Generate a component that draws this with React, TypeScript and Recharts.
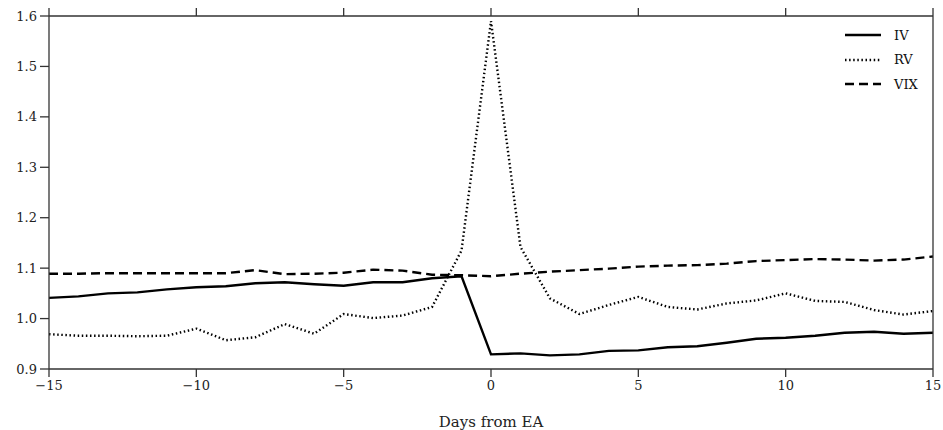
import { LineChart, Line, XAxis, YAxis } from 'recharts'

const days = [-15, -14, -13, -12, -11, -10, -9, -8, -7, -6, -5, -4, -3, -2, -1, 0, 1, 2, 3, 4, 5, 6, 7, 8, 9, 10, 11, 12, 13, 14, 15]

const iv = [
  1.041, 1.044, 1.050, 1.052, 1.058, 1.062, 1.064, 1.070, 1.072, 1.068, 1.065, 1.072, 1.072, 1.080, 1.084,
  0.929, 0.931, 0.927, 0.929, 0.936, 0.937, 0.943, 0.945, 0.952, 0.960, 0.962, 0.966, 0.972, 0.974, 0.970, 0.972,
]

const rv = [
  0.969, 0.966, 0.966, 0.965, 0.966, 0.980, 0.957, 0.963, 0.989, 0.970, 1.009, 1.001, 1.006, 1.023, 1.135,
  1.590, 1.142, 1.040, 1.009, 1.027, 1.043, 1.023, 1.018, 1.030, 1.036, 1.050, 1.035, 1.033, 1.017, 1.008, 1.015,
]

const vix = [
  1.089, 1.089, 1.090, 1.090, 1.090, 1.090, 1.090, 1.096, 1.088, 1.089, 1.091, 1.097, 1.095, 1.087, 1.086,
  1.084, 1.089, 1.093, 1.096, 1.099, 1.103, 1.105, 1.106, 1.109, 1.114, 1.116, 1.118, 1.117, 1.115, 1.117, 1.123,
]

const xTicks = [-15, -10, -5, 0, 5, 10, 15]
const yTicks = [0.9, 1.0, 1.1, 1.2, 1.3, 1.4, 1.5, 1.6]

const seriesNames = ['IV', 'RV', 'VIX']

const data = days.map((d, i) => ({ day: d, IV: iv[i], RV: rv[i], VIX: vix[i] }))

const FONT = '"DejaVu Serif", serif'
const AXIS = '#333'
const LINE_W = 2.4
const DASH: Record<string, string | undefined> = { IV: undefined, RV: '1.5 2.6', VIX: '9 5' }

const fmtX = (v: number) => (v < 0 ? `\u2212${Math.abs(v)}` : `${v}`)

function LegendBox() {
  return (
    <div style={{ position: 'absolute', left: 845, top: 23, fontFamily: FONT, fontSize: 13, color: '#111' }}>
      {seriesNames.map((name) => (
        <div key={name} style={{ display: 'flex', alignItems: 'center', height: 24.5 }}>
          <svg width={49} height={10}>
            <line x1={0} y1={5} x2={36} y2={5} stroke="#000" strokeWidth={LINE_W} strokeDasharray={DASH[name]} />
          </svg>
          <span>{name}</span>
        </div>
      ))}
    </div>
  )
}

const NoTick = () => <g />

export default function App() {
  // absolutely placed so the body margin doesn't push the chart off the page
  return (
    <div style={{ position: 'absolute', left: 0, top: 0, width: 943, height: 430, overflow: 'hidden', background: '#fff' }}>
      <LineChart
        width={943}
        height={430}
        data={data}
        margin={{ top: 8, right: 0, bottom: 0, left: 8 }}
      >
        <XAxis
          xAxisId="b"
          dataKey="day"
          type="number"
          domain={[-15, 15]}
          ticks={xTicks}
          tickFormatter={fmtX}
          height={61}
          tickSize={8}
          tickMargin={4}
          stroke={AXIS}
          strokeWidth={1.3}
          interval={0}
          tick={{ fill: '#222', fontFamily: FONT, fontSize: 13 }}
          label={{ value: 'Days from EA', position: 'insideBottom', offset: 3, fill: '#222', fontFamily: FONT, fontSize: 15 }}
        />
        <XAxis
          xAxisId="t"
          orientation="top"
          dataKey="day"
          type="number"
          domain={[-15, 15]}
          ticks={xTicks}
          height={8}
          tickSize={8}
          stroke={AXIS}
          strokeWidth={1.3}
          tick={NoTick}
        />
        <YAxis
          yAxisId="l"
          domain={[0.9, 1.6]}
          ticks={yTicks}
          tickFormatter={(v: number) => v.toFixed(1)}
          width={41}
          tickSize={9}
          tickMargin={3}
          stroke={AXIS}
          strokeWidth={1.3}
          interval={0}
          tick={{ fill: '#222', fontFamily: FONT, fontSize: 13 }}
        />
        <YAxis
          yAxisId="r"
          orientation="right"
          domain={[0.9, 1.6]}
          ticks={yTicks}
          width={10}
          tickSize={8}
          stroke={AXIS}
          strokeWidth={1.3}
          tick={NoTick}
        />
        {seriesNames.map((name) => (
          <Line
            key={name}
            xAxisId="b"
            yAxisId="l"
            type="linear"
            dataKey={name}
            stroke="#000"
            strokeWidth={LINE_W}
            strokeDasharray={DASH[name]}
            dot={false}
            activeDot={false}
            isAnimationActive={false}
          />
        ))}
      </LineChart>
      <LegendBox />
    </div>
  )
}
